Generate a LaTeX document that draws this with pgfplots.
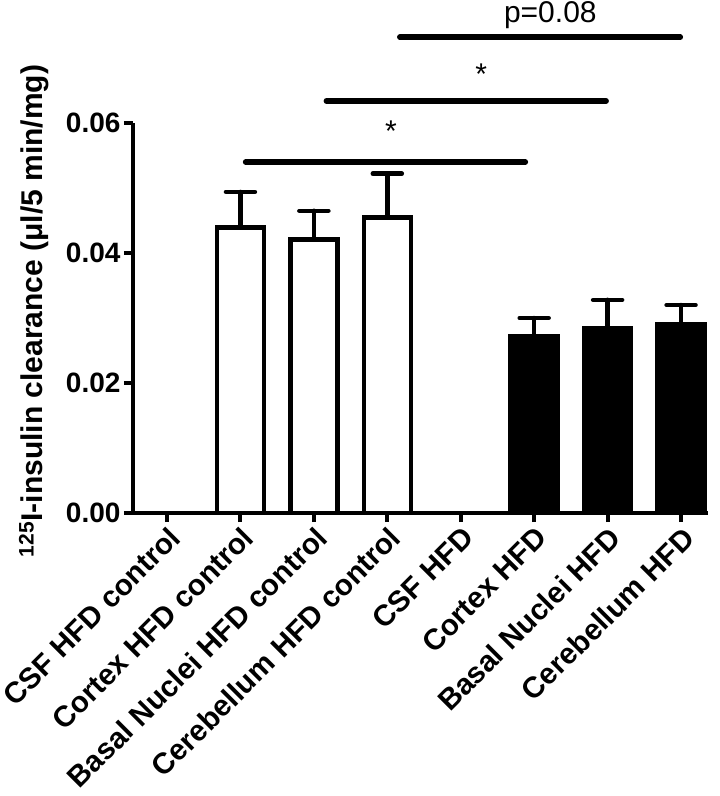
\documentclass[border=0pt]{standalone}
\usepackage{pgfplots}
\pgfplotsset{compat=1.18}
\usepackage{fontspec}
\setmainfont{Liberation Sans}
\begin{document}
\begin{tikzpicture}
\useasboundingbox (0pt,0pt) rectangle (720pt,-796pt);
\begin{axis}[
  at={(133pt,-513pt)}, anchor=south west,
  scale only axis, width=575pt, height=390pt,
  xmin=-0.463, xmax=7.367, ymin=0, ymax=0.06,
  clip=false,
  axis x line*=bottom, axis y line*=left,
  axis line style={line width=4pt, black},
  tick align=outside,
  major tick length=9pt,
  tick style={line width=4pt, black},
  xtick={0,...,7},
  xticklabels={CSF HFD control, Cortex HFD control, Basal Nuclei HFD control, Cerebellum HFD control, CSF HFD, Cortex HFD, Basal Nuclei HFD, Cerebellum HFD},
  x tick label style={rotate=45, anchor=north east, inner sep=2pt, font=\bfseries\fontsize{29.5}{29.5}\selectfont},
  ytick={0,0.02,0.04,0.06},
  scaled y ticks=false,
  y tick label style={font=\bfseries\fontsize{28}{28}\selectfont, /pgf/number format/fixed, /pgf/number format/fixed zerofill, /pgf/number format/precision=2, /pgf/number format/assume math mode=true},
  ylabel={\textsuperscript{125}I-insulin clearance (μl/5 min/mg)},
  every axis y label/.style={at={(axis description cs:-0.172,0.518)}, rotate=90, anchor=center, font=\bfseries\fontsize{30}{30}\selectfont},
]
\addplot[ybar, bar width=0.64, bar shift=0pt, fill=white, draw=black, line width=4.5pt,
  error bars/.cd, y dir=plus, y explicit,
  error bar style={line width=4.5pt, black, line cap=round},
  error mark options={rotate=90, line width=4.5pt, mark size=14.5pt, black, line cap=round}]
  coordinates {(1,0.0439) +- (0,0.0055) (2,0.0421) +- (0,0.0044) (3,0.0455) +- (0,0.0067)};
\addplot[ybar, bar width=0.64, bar shift=0pt, fill=black, draw=black, line width=4.5pt,
  error bars/.cd, y dir=plus, y explicit,
  error bar style={line width=4.5pt, black, line cap=round},
  error mark options={rotate=90, line width=4.5pt, mark size=14.5pt, black, line cap=round}]
  coordinates {(5,0.0272) +- (0,0.0028) (6,0.0285) +- (0,0.0043) (7,0.0290) +- (0,0.0030)};
\draw[line width=5.5pt, line cap=round] (axis cs:1.07,0.054) -- (axis cs:4.88,0.054);
\draw[line width=5.5pt, line cap=round] (axis cs:2.17,0.0634) -- (axis cs:5.98,0.0634);
\draw[line width=5.5pt, line cap=round] (axis cs:3.17,0.0732) -- (axis cs:6.99,0.0732);
\node[anchor=north, inner sep=0pt, font=\fontsize{30}{30}\selectfont] at (axis cs:3.05,0.0604) {*};
\node[anchor=north, inner sep=0pt, font=\fontsize{30}{30}\selectfont] at (axis cs:4.28,0.0691) {*};
\node[anchor=base, inner sep=0pt, font=\fontsize{30}{30}\selectfont] at (axis cs:5.22,0.0754) {p=0.08};
\end{axis}
\end{tikzpicture}
\end{document}
